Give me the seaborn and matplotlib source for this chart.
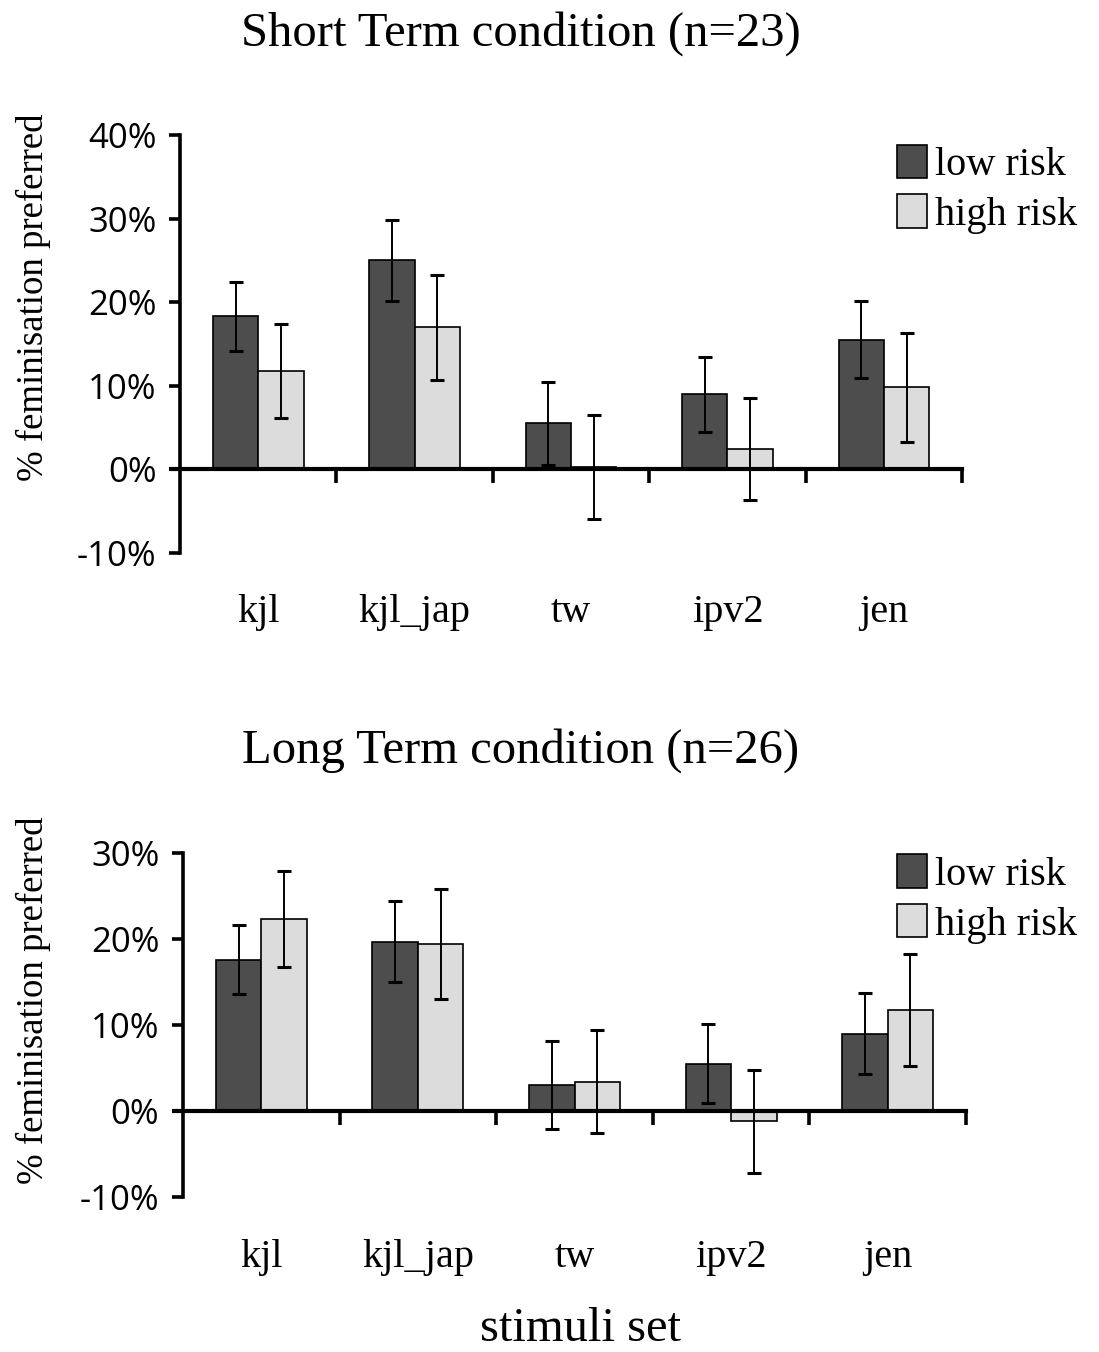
import numpy as np
import pandas as pd
import seaborn as sns
import matplotlib.pyplot as plt
import matplotlib.transforms as mtransforms
from matplotlib.patches import Patch

# data (percent)
stimuli = ['kjl', 'kjl_jap', 'tw', 'ipv2', 'jen']
risk_levels = ['low risk', 'high risk']

short_low = [18.3, 25.0, 5.5, 9.0, 15.5]
short_high = [11.8, 17.0, 0.3, 2.4, 9.8]
short_low_err = [4.1, 4.8, 5.0, 4.5, 4.6]
short_high_err = [5.6, 6.3, 6.2, 6.1, 6.5]

long_low = [17.6, 19.7, 3.0, 5.5, 9.0]
long_high = [22.3, 19.4, 3.4, -1.2, 11.8]
long_low_err = [4.0, 4.7, 5.1, 4.6, 4.7]
long_high_err = [5.6, 6.4, 6.0, 6.0, 6.5]

short_ticks = [-10, 0, 10, 20, 30, 40]
long_ticks = [-10, 0, 10, 20, 30]

colors = {'low risk': '#4d4d4d', 'high risk': '#dcdcdc'}

sns.set_theme(style='white')
plt.rcParams.update({'text.color': 'black', 'xtick.color': 'black',
                     'ytick.color': 'black', 'axes.labelcolor': 'black'})
serif = 'Liberation Serif'
sans = 'Open Sans'

fig = plt.figure(figsize=(10.99, 13.52), dpi=100)
ax1 = fig.add_axes([0.1638, 0.591, 0.7116, 0.3091])
ax2 = fig.add_axes([0.1665, 0.1146, 0.7125, 0.2544])


def draw_panel(ax, low, high, low_err, high_err, ticks, title, title_y, label_y, leg_y):
    df = pd.DataFrame({
        'stimuli': stimuli * 2,
        'risk': ['low risk'] * len(stimuli) + ['high risk'] * len(stimuli),
        'value': low + high,
    })
    sns.barplot(data=df, x='stimuli', y='value', hue='risk', order=stimuli,
                hue_order=risk_levels, palette=colors, width=0.58,
                edgecolor='black', linewidth=1.2, errorbar=None, ax=ax,
                legend=False, saturation=1)

    # error bars at the bar centres
    for cont, vals, err in zip(ax.containers, [low, high], [low_err, high_err]):
        xs = [p.get_x() + p.get_width() / 2 for p in cont.patches]
        ax.errorbar(xs, vals, yerr=err, fmt='none', ecolor='black',
                    elinewidth=1.4, capsize=5, capthick=2.2, zorder=5)

    ax.set_xlim(-0.5, 4.5)
    ax.set_ylim(ticks[0], ticks[-1])
    ax.set_yticks(ticks)
    ax.set_yticklabels([f'{t}%' for t in ticks], fontfamily=sans, fontsize=25)
    ax.set_xlabel('')
    ax.set_ylabel('')

    for s in ['top', 'right']:
        ax.spines[s].set_visible(False)
    ax.spines['left'].set_linewidth(2.6)
    ax.spines['left'].set_color('black')
    ax.spines['bottom'].set_position(('data', 0))
    ax.spines['bottom'].set_linewidth(3)
    ax.spines['bottom'].set_color('black')
    ax.set_xticks(np.arange(0.5, 5, 1))
    ax.set_xticklabels([])
    ax.tick_params(axis='x', direction='out', length=10, width=2.6,
                   color='black', bottom=True)
    ax.tick_params(axis='y', direction='out', length=8, width=2.6, color='black',
                   pad=9, left=True)
    ax.plot([-0.57, -0.5], [0, 0], color='black', lw=3, clip_on=False,
            solid_capstyle='butt')

    trans = mtransforms.blended_transform_factory(ax.transData, fig.transFigure)
    for i, name in enumerate(stimuli):
        ax.text(i, label_y, name, transform=trans, ha='center', va='center',
                fontfamily=serif, fontsize=29)

    fig.text(0.474, title_y, title, ha='center', va='center',
             fontfamily=serif, fontsize=35)

    handles = [Patch(facecolor=colors[r], edgecolor='black', linewidth=1.2)
               for r in risk_levels]
    fig.legend(handles, risk_levels, loc='upper right',
               bbox_to_anchor=(0.995, leg_y), frameon=False,
               prop={'family': serif, 'size': 29}, handlelength=0.75,
               handleheight=0.9, handletextpad=0.2, labelspacing=0.25,
               borderaxespad=0)


draw_panel(ax1, short_low, short_high, short_low_err, short_high_err,
           short_ticks, 'Short Term condition (n=23)', 0.975, 0.547, 0.905)
draw_panel(ax2, long_low, long_high, long_low_err, long_high_err,
           long_ticks, 'Long Term condition (n=26)', 0.445, 0.07, 0.380)

fig.text(0.03, 0.78, '% feminisation preferred', rotation=90, ha='center',
         va='center', fontfamily=serif, fontsize=26.5)
fig.text(0.03, 0.26, '% feminisation preferred', rotation=90, ha='center',
         va='center', fontfamily=serif, fontsize=26.5)
fig.text(0.528, 0.017, 'stimuli set', ha='center', va='center',
         fontfamily=serif, fontsize=35)

fig.savefig('out.png', dpi=100)
